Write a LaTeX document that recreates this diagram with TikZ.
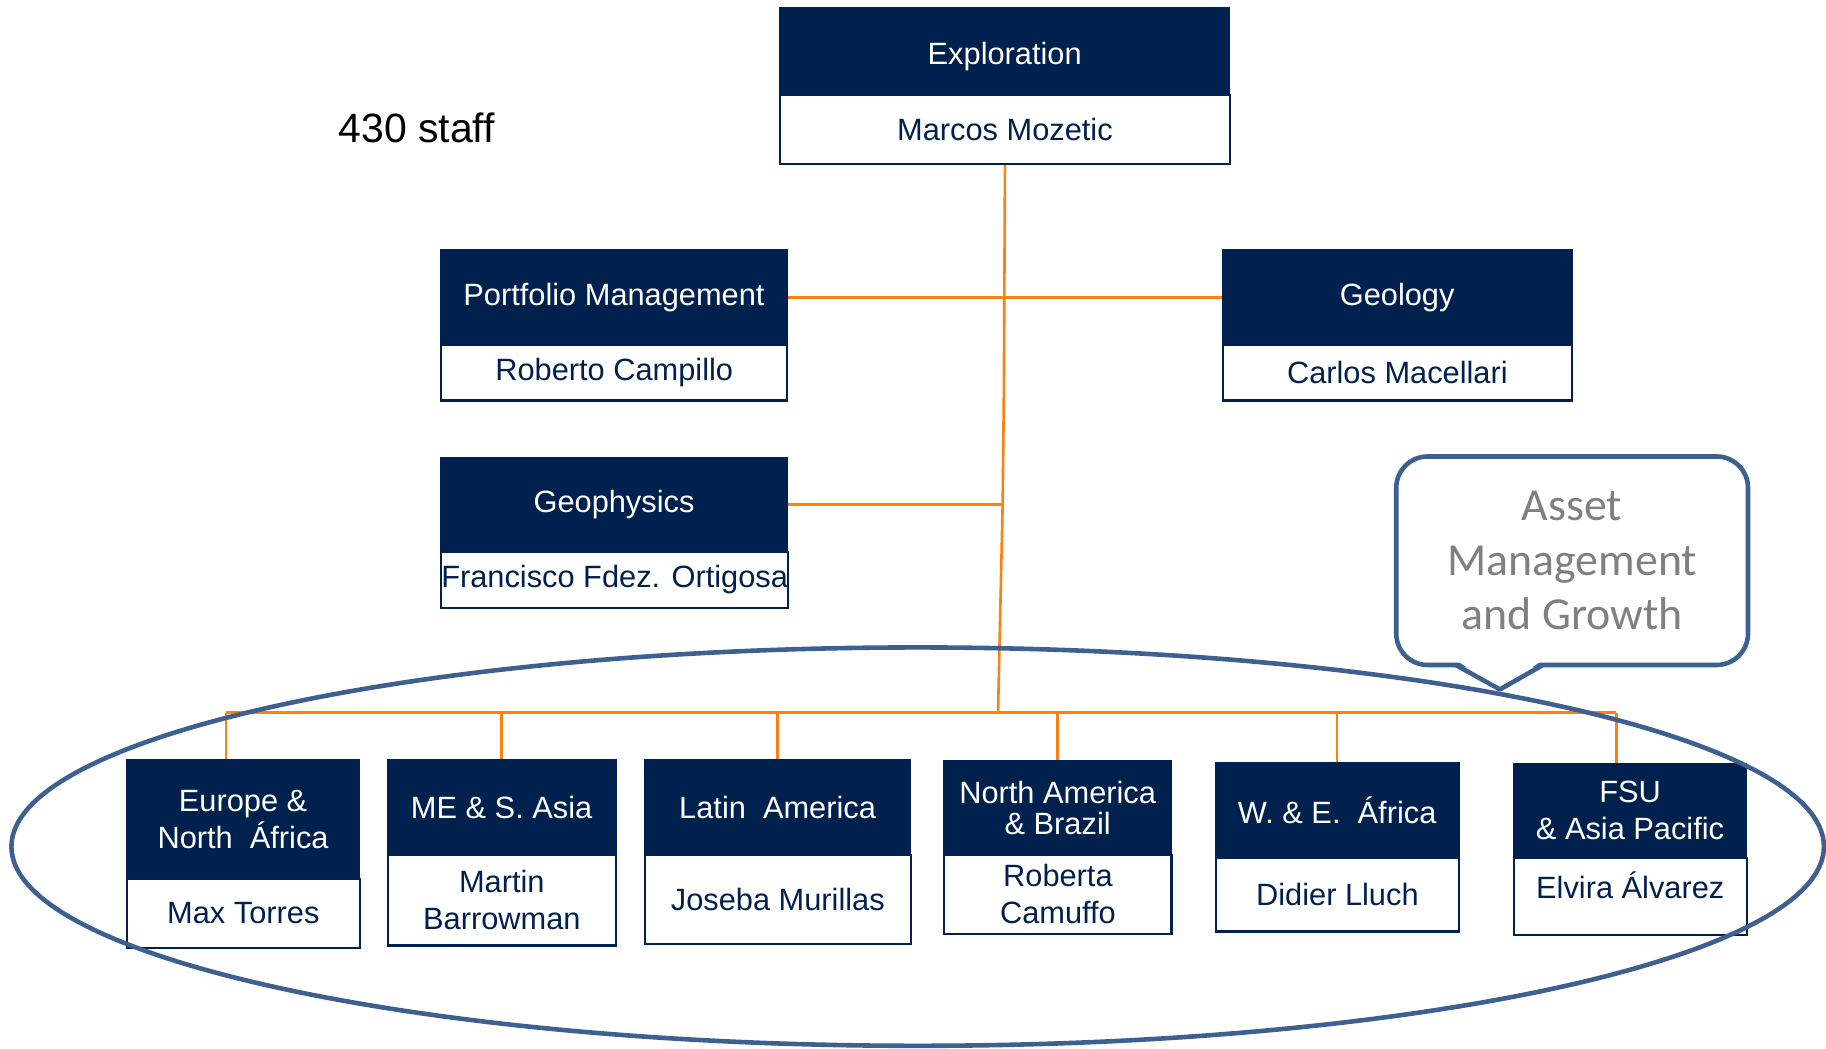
\documentclass[tikz,border=0pt]{standalone}
\usepackage{fontspec}
\setmainfont{Liberation Sans}
\newfontfamily\calfont{Carlito}
\definecolor{navy}{RGB}{0,32,78}
\definecolor{orng}{RGB}{250,130,20}
\definecolor{elc}{RGB}{62,96,145}
\definecolor{gtxt}{RGB}{128,128,128}
\newcommand{\bxfont}{\fontsize{18.8}{22.5}\selectfont}
\begin{document}
\begin{tikzpicture}[x=0.025cm,y=-0.025cm,
 hd/.style={rectangle, fill=navy, draw=navy, line width=1pt, text=white, inner sep=0pt, anchor=north west, align=center, font=\bxfont},
 bd/.style={rectangle, fill=white, draw=navy, line width=1.3pt, text=navy, inner sep=0pt, anchor=north west, align=center, font=\bxfont},
 conn/.style={draw=orng, line width=1.6pt},
 ring/.style={draw=elc, line width=2.8pt}
 ]
\useasboundingbox (0,0) rectangle (1568,900);

% top level
\node[hd, minimum width=9.65cm, minimum height=1.875cm, text height=0.62cm, text depth=0.05cm] (expH) at (669,6) {Exploration};
\node[bd, minimum width=9.65cm, minimum height=1.475cm] (expB) at (669,81) {Marcos Mozetic};

\node[hd, minimum width=7.425cm, minimum height=2.025cm] (pmH) at (378,214) {Portfolio Management};
\node[bd, minimum width=7.425cm, minimum height=1.2cm] (pmB) at (378,295) {Roberto Campillo};

\node[hd, minimum width=7.5cm, minimum height=2.025cm] (geoH) at (1049,214) {Geology};
\node[bd, minimum width=7.5cm, minimum height=1.2cm] (geoB) at (1049,295) {Carlos Macellari};

\node[hd, minimum width=7.425cm, minimum height=2.025cm] (gphH) at (378,392) {Geophysics};
\node[bd, minimum width=7.425cm, minimum height=1.2cm] (gphB) at (378,473) {Francisco Fdez. Ortigosa};

\node[font=\fontsize{25}{30}\selectfont, inner sep=0pt] (staff) at (358,110) {430 staff};

% regions
\node[hd, minimum width=5cm, minimum height=2.55cm] (euH) at (108,652) {Europe \&\\North\ \ África};
\node[bd, minimum width=5cm, minimum height=1.475cm] (euB) at (108,754) {Max Torres};

\node[hd, minimum width=4.9cm, minimum height=2.025cm] (meH) at (332,652) {ME \& S. Asia};
\node[bd, minimum width=4.9cm, minimum height=1.95cm] (meB) at (332,733) {Martin\\Barrowman};

\node[hd, minimum width=5.7cm, minimum height=2.025cm] (laH) at (553,652) {Latin\ \ America};
\node[bd, minimum width=5.7cm, minimum height=1.925cm] (laB) at (553,733) {Joseba Murillas};

\node[hd, minimum width=4.875cm, minimum height=2.0cm] (naH) at (810,653) {North America\\[-4pt]\& Brazil};
\node[bd, minimum width=4.875cm, minimum height=1.7cm] (naB) at (810,733) {Roberta\\Camuffo};

\node[hd, minimum width=5.225cm, minimum height=2.05cm] (weH) at (1043,654) {W. \& E.\ \ África};
\node[bd, minimum width=5.225cm, minimum height=1.575cm] (weB) at (1043,736) {Didier Lluch};

\node[hd, minimum width=5cm, minimum height=2.025cm] (fsuH) at (1299,655) {FSU\\\& Asia Pacific};
\node[bd, minimum width=5cm, minimum height=1.65cm, text height=0.6cm, text depth=0.5cm] (fsuB) at (1299,736) {Elvira Álvarez};

% connectors
\coordinate (jA) at (862,340);
\coordinate (jB) at (861,432.5);
\coordinate (jC) at (857,612);
\coordinate (bL) at (194,612);
\coordinate (bR) at (1388,612);
\draw[conn] (expB.south) -- (jA) -- (jB) -- (jC);
\draw[conn] (pmH.east) -- (geoH.west);
\draw[conn] (gphH.east) -- (gphH.east -| jB);
\draw[conn] (bL) -- (bR);
\draw[conn] (bL) -- (bL |- euH.north);
\draw[conn] (meH.north |- bL) -- (meH.north);
\draw[conn] (laH.north |- bL) -- (laH.north);
\draw[conn] (naH.north |- bL) -- (naH.north);
\draw[conn] (weH.north |- bL) -- (weH.north);
\draw[conn] (bR) -- (bR |- fsuH.north);

% callout
\node[ring, rounded corners=0.675cm, fill=white, minimum width=7.55cm, minimum height=4.475cm, inner sep=0pt, align=center, text=gtxt, font=\calfont\fontsize{28}{33.4}\selectfont] (amg) at (1350,481.5) {Asset\\Management\\and Growth};
\coordinate (tip) at (1288,592);
\fill[white] (1252,568) -- (tip) -- (1323,568) -- cycle;
\draw[ring, line join=round] (1250,571) -- (tip) -- (1325,571);

% ellipse
\draw[ring] (788,727) ellipse [x radius=19.45cm, y radius=4.275cm];
\end{tikzpicture}
\end{document}
